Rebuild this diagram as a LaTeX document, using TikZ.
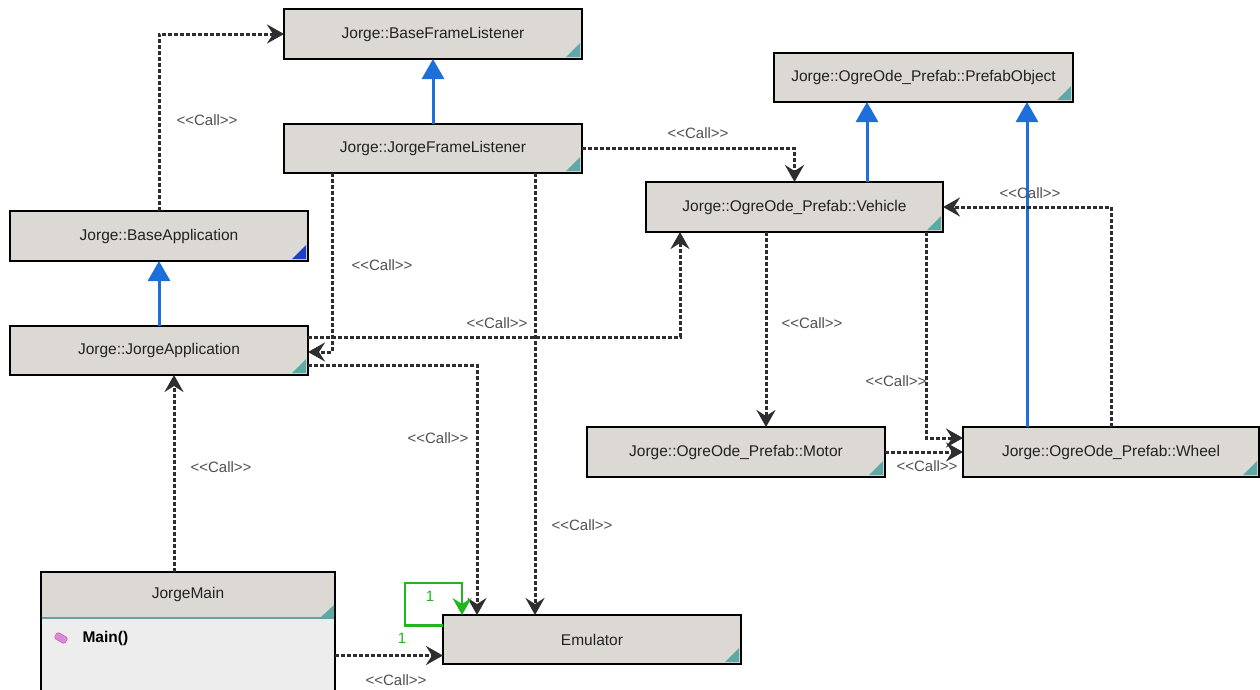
\documentclass[tikz,border=0pt]{standalone}
\usepackage{fontspec}
\setmainfont{Liberation Sans}
\usetikzlibrary{arrows.meta,calc}
\definecolor{boxfill}{HTML}{DCD9D5}
\definecolor{bodyfill}{HTML}{EDEDED}
\definecolor{dashc}{HTML}{2E2E2E}
\definecolor{inhblue}{HTML}{1E6FD9}
\definecolor{cornerc}{HTML}{5EA9A6}
\definecolor{cornerblue}{HTML}{1A3FC8}
\definecolor{lblgray}{HTML}{505050}
\definecolor{txt}{HTML}{222222}
\definecolor{grn}{HTML}{22B522}
\definecolor{pinkc}{HTML}{D98BDB}
\tikzset{
  box/.style={draw=black, line width=2pt, fill=boxfill, minimum height=50pt, minimum width=298pt,
    inner sep=0pt, outer sep=0pt, font=\fontsize{15.5}{18}\selectfont, text=txt},
  call/.style={draw=dashc, line width=3pt, dash pattern=on 4pt off 2pt,
    -{Stealth[length=17pt,width=19pt,inset=6pt]}},
  inh/.style={draw=inhblue, line width=3pt, -{Triangle[length=20pt,width=22pt]}},
  lbl/.style={font=\fontsize{15}{18}\selectfont, text=lblgray, inner sep=1pt},
  grnlbl/.style={font=\fontsize{15}{18}\selectfont, text=grn, inner sep=1pt},
  loopline/.style={draw=grn, line width=2.5pt, -{Stealth[length=17pt,width=19pt,inset=6pt]}},
}
\newcommand{\corner}[2][cornerc]{%
  \fill[#1] ([shift={(-2,-2)}]#2.south east) -- ++(-14,0) -- ++(14,-14) -- cycle;}
\begin{document}
\begin{tikzpicture}[x=1pt,y=-1pt]
\useasboundingbox (0,0) rectangle (1260,689);
\fill[white] (0,0) rectangle (1260,689);
\clip (0,0) rectangle (1260,689);

% nodes
\node[box] (BFL) at (433,34) {Jorge::BaseFrameListener};
\node[box, minimum height=49pt] (JFL) at (433,148.5) {Jorge::JorgeFrameListener};
\node[box, minimum width=299pt, minimum height=49pt] (PO) at (923.5,77.5) {Jorge::OgreOde\_Prefab::PrefabObject};
\node[box, minimum width=297pt] (VEH) at (794.5,207) {Jorge::OgreOde\_Prefab::Vehicle};
\node[box] (BA) at (159,236) {Jorge::BaseApplication};
\node[box, minimum height=49pt] (JA) at (159,350.5) {Jorge::JorgeApplication};
\node[box] (MOT) at (736,452) {Jorge::OgreOde\_Prefab::Motor};
\node[box, minimum width=296pt] (WHL) at (1111,452) {Jorge::OgreOde\_Prefab::Wheel};
\node[box, minimum height=49pt] (EMU) at (592,639.5) {Emulator};

% JorgeMain class box
\node[box, minimum width=294pt, minimum height=125pt, fill=bodyfill] (JM) at (188,634.5) {};
\fill[boxfill] ([shift={(1,1)}]JM.north west) rectangle ([shift={(-1,46)}]JM.north east);
\draw[cornerc!80!gray, line width=2pt] ([shift={(1,46)}]JM.north west) -- ([shift={(-1,46)}]JM.north east);
\fill[cornerc] ([shift={(-1,45)}]JM.north east) -- ++(-13,0) -- ++(13,-12) -- cycle;
\node[font=\fontsize{15.5}{18}\selectfont, text=txt] (JMt) at ([yshift=-22]JM.north) {JorgeMain};
\node[draw=pinkc!70!purple, fill=pinkc, line width=0.6pt, minimum width=12pt, minimum height=7pt,
  rounded corners=1.5pt, inner sep=0pt, rotate=-30] (ico) at (61,638) {};
\node[font=\bfseries\fontsize{15.5}{18}\selectfont, anchor=west, text=black] (mm) at (79,638) {Main()};

% corner marks
\corner{BFL}\corner{JFL}\corner{PO}\corner{VEH}\corner{JA}\corner{MOT}\corner{WHL}\corner{EMU}
\corner[cornerblue]{BA}

% inheritance
\draw[inh] (JFL.north) -- (BFL.south);
\draw[inh] (JA.north) -- (BA.south);
\draw[inh] ([xshift=72.5]VEH.north) -- ([xshift=72.5]VEH.north |- PO.south);
\draw[inh] ([xshift=-46]PO.south east |- WHL.north) -- ([xshift=-46]PO.south east);

% calls
\draw[call] (BA.north) |- (BFL.west);
\node[lbl] (l1) at (207,120) {<{}<Call>{}>};

\draw[call] (JFL.east) -| (VEH.north);
\node[lbl] (l2) at (698,133) {<{}<Call>{}>};

\draw[call] (WHL.north) |- (VEH.east);
\node[lbl] (l3) at (1030,193) {<{}<Call>{}>};

\draw[call] ([xshift=-17]VEH.south east) |- ([yshift=14]WHL.west);
\node[lbl] (l4) at (896,381) {<{}<Call>{}>};

\draw[call] (MOT.east) -- (WHL.west);
\node[lbl] (l5) at (927,466) {<{}<Call>{}>};

\draw[call] ([xshift=-28.5]VEH.south) -- ([xshift=-28.5]VEH.south |- MOT.north);
\node[lbl] (l6) at (812,323) {<{}<Call>{}>};

\draw[call] ([yshift=13.5]JA.east) -| ([xshift=34]VEH.south west);
\node[lbl] (l7) at (497,323) {<{}<Call>{}>};

\draw[call] ([xshift=48]JFL.south west) |- ([yshift=-1.5]JA.east);
\node[lbl] (l8) at (382,265) {<{}<Call>{}>};

\draw[call] ([yshift=-14.5]JA.east) -| ([xshift=34]EMU.north west);
\node[lbl] (l9) at (438,438) {<{}<Call>{}>};

\draw[call] ([xshift=102]JFL.south) -- ([xshift=102]JFL.south |- EMU.north);
\node[lbl] (l10) at (582,525) {<{}<Call>{}>};

\draw[call] ([xshift=-14]JM.north) -- ([xshift=-14]JM.north |- JA.south);
\node[lbl] (l11) at (221,467) {<{}<Call>{}>};

\draw[call] ([yshift=-16]EMU.west -| JM.east) -- ([yshift=-16]EMU.west);
\node[lbl] (l12) at (396,680) {<{}<Call>{}>};
\node[grnlbl] (g1) at (402,638) {1};

% self loop
\draw[loopline] ([yshift=14]EMU.west) -- ++(-38,0) |- ([xshift=19,yshift=32]EMU.north west) -- ([xshift=19]EMU.north west);
\node[grnlbl] (g2) at (430,596) {1};
\end{tikzpicture}
\end{document}
